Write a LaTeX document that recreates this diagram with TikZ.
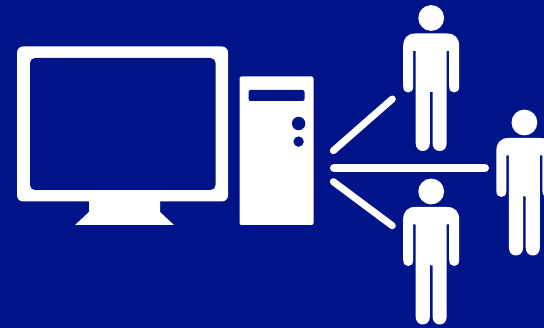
\documentclass[tikz,border=0pt]{standalone}
\definecolor{bgblue}{HTML}{00148A}
\tikzset{
  linkline/.style={draw=white,line cap=round},
  person/.pic={
    \fill[white] (0,0) circle (12.9);
    \fill[white] (-16,15.5)
      .. controls (-23.5,15.5) and (-28,20) .. (-28,28)
      -- (-28,68)
      .. controls (-28,72.5) and (-26,74.5) .. (-23,74.5)
      .. controls (-20,74.5) and (-18,72.5) .. (-18,68)
      -- (-18,33) -- (-15.5,33) -- (-15.5,125)
      .. controls (-15.5,130) and (-12.5,133) .. (-8.5,133)
      .. controls (-4.5,133) and (-1.3,130) .. (-1.3,125)
      -- (-1.3,74) -- (1.3,74) -- (1.3,125)
      .. controls (1.3,130) and (4.5,133) .. (8.5,133)
      .. controls (12.5,133) and (15.5,130) .. (15.5,125)
      -- (15.5,33) -- (18,33) -- (18,68)
      .. controls (18,72.5) and (20,74.5) .. (23,74.5)
      .. controls (26,74.5) and (28,72.5) .. (28,68)
      -- (28,28)
      .. controls (28,20) and (23.5,15.5) .. (16,15.5) -- cycle;
  }
}
\begin{document}
\begin{tikzpicture}[x=1pt,y=-1pt]
\fill[bgblue] (0,0) rectangle (544,328);
\useasboundingbox (0,0) rectangle (544,328);
\clip (0,0) rectangle (544,328);
% monitor
\fill[white,rounded corners=6] (17,46.5) rectangle (228,201.5);
\fill[bgblue,rounded corners=5] (30,58) rectangle (215.5,190);
\fill[white] (89,200) -- (89,212) -- (75,225) -- (174,225) -- (160,212) -- (160,200) -- cycle;
% tower
\fill[white,rounded corners=2] (239.5,76.5) rectangle (313.5,225);
\fill[bgblue,rounded corners=2] (248.5,90) rectangle (304.5,101);
\fill[bgblue] (298.6,123.5) circle (6.7);
\fill[bgblue] (298.6,141.6) circle (5.2);
% links
\draw[linkline,line width=7] (333.3,150.7) -- (392.3,99);
\draw[linkline,line width=8] (334,168) -- (485,168);
\draw[linkline,line width=7] (333.3,181.7) -- (392.3,225.7);
% people
\pic at (431.2,18) {person};
\pic at (431.2,191.5) {person};
\pic at (524.4,122.5) {person};
\end{tikzpicture}
\end{document}
